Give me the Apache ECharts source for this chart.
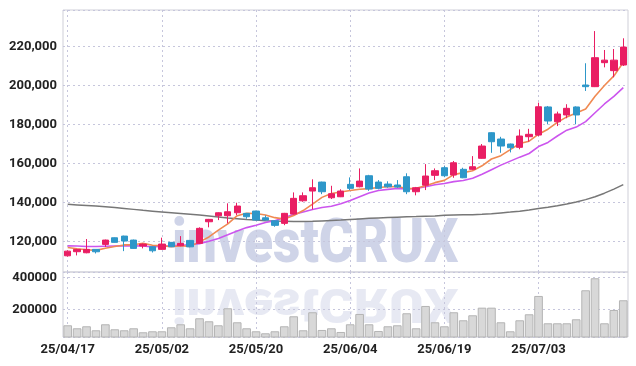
<!DOCTYPE html>
<html><head><meta charset="utf-8">
<script src="https://cdn.jsdelivr.net/npm/echarts@6/dist/echarts.min.js"></script>
<style>html,body{margin:0;padding:0;background:#fff}#c{width:636px;height:366px}</style>
</head><body><div id="c"></div>
<script>
const dates = ['25/04/17','25/04/18','25/04/21','25/04/22','25/04/23','25/04/24','25/04/25','25/04/28','25/04/29','25/04/30',
'25/05/02','25/05/07','25/05/08','25/05/09','25/05/12','25/05/13','25/05/14','25/05/15','25/05/16','25/05/19',
'25/05/20','25/05/21','25/05/22','25/05/23','25/05/26','25/05/27','25/05/28','25/05/29','25/05/30','25/06/02',
'25/06/04','25/06/05','25/06/09','25/06/10','25/06/11','25/06/12','25/06/13','25/06/16','25/06/17','25/06/18',
'25/06/19','25/06/20','25/06/23','25/06/24','25/06/25','25/06/26','25/06/27','25/06/30','25/07/01','25/07/02',
'25/07/03','25/07/04','25/07/07','25/07/08','25/07/09','25/07/10','25/07/11','25/07/14','25/07/15','25/07/16'];

const openP = [112700,114800,114260,116000,118560,121950,122820,120770,117700,117330,116000,119590,117850,120600,119080,130150,133230,133230,134770,134460,135640,132200,130660,129330,134100,140900,145900,150500,142460,142970,149330,148100,153740,150500,149490,149000,153230,145540,148900,153950,157850,154100,157030,157030,162670,175800,172560,170000,168300,173750,174600,189000,181400,184900,189000,200250,199400,211700,207600,210500];
const closeP = [115100,116000,116000,114770,120770,119590,120260,116500,118700,115280,118720,117330,119080,117300,126770,131380,134770,135280,138200,132720,131030,131030,128300,134460,142150,143500,147600,145540,144510,145900,147280,151000,146920,147280,148100,147950,145540,147600,153600,156310,153740,160400,152700,158360,168970,171180,168970,168100,174100,174970,189100,181800,185400,188300,184900,199400,214250,213000,213000,219700];
const lowP = [112300,112900,114000,113900,117300,119500,115100,116300,116500,114400,115800,117200,117600,117100,118800,127300,131000,129300,133600,131700,130800,130900,127600,128400,133900,140400,136500,144300,141800,142800,146400,147800,146000,146800,147600,147500,144300,143700,146400,151500,153000,152700,152500,156600,162500,165500,165500,165700,167300,171200,174000,180100,179200,183200,180100,197200,199200,209300,204200,210000];
const highP = [115500,116200,121300,116000,121000,122100,123000,121000,119000,117400,122000,119700,122800,120700,127300,131600,135000,139600,139900,134600,135800,133400,130800,134700,145200,145200,151900,150700,148600,146800,152900,157500,154200,151500,150900,151500,155000,148000,159700,157500,158700,161300,157850,163800,170000,176000,173700,170200,177500,177800,191200,189500,186600,190400,189300,211400,227900,218200,218700,224200];

const ma5 = [117000,116300,115800,115500,116530,117430,118280,118380,119160,118070,117890,117310,117820,117540,119840,122370,125860,129100,133280,134470,134400,133650,132260,131510,133390,135890,139200,142650,144660,145410,146170,146850,147120,147680,148120,148250,147160,147290,148560,150200,151360,154330,155350,156300,158830,162320,164040,167120,170260,171460,175050,177610,181070,183910,185900,187960,194450,199970,204910,211870];
const ma10 = [117800,117700,117500,117500,117600,117700,117800,117800,117700,117300,117660,117790,118100,118350,118950,120130,121580,123460,125410,127150,128390,129760,130680,132390,133930,135140,136430,137450,138080,139400,141030,143020,144890,146170,146760,147210,147000,147210,148120,149160,149800,150740,151320,152430,154520,156840,159180,161230,163280,165150,168690,170830,174100,177090,178680,181500,186030,190520,194410,198890];
const maLong = [139100,138800,138500,138200,137800,137400,137000,136500,136000,135600,135200,134800,134400,134000,133600,133100,132600,132100,131700,131300,131000,130700,130500,130400,130300,130300,130400,130600,130800,131000,131300,131600,131900,132100,132300,132500,132700,132800,133000,133100,133500,133600,133700,133800,134000,134300,134700,135100,135600,136200,136900,137600,138400,139300,140300,141500,143000,144800,146900,149200];

const volume = [101250,82500,95000,70000,107500,76250,70000,82500,57500,63750,63750,88750,107500,82500,145000,126250,101250,207500,120000,82500,63750,51250,63750,95000,157500,70000,182500,72000,82500,59400,107500,171900,107500,65600,95000,101250,176250,82500,221900,120000,95000,182500,132500,163750,211250,211250,120000,63750,132500,170000,284400,113750,113750,113750,138750,320000,395000,113750,196900,257500];

const priceTicks = [120000,140000,160000,180000,200000,220000];
const volTicks = [200000,400000];

const FONT = 'Roboto, "Liberation Sans", sans-serif';
const chart = echarts.init(document.getElementById('c'), null, {renderer:'canvas'});
const kdata = dates.map((d,i)=>[openP[i], closeP[i], lowP[i], highP[i]]);
const gridLine = {show:true, lineStyle:{color:'#c6c6dc', type:[2,3], width:1}};
const labelStyle = {color:'#222', fontFamily:FONT, fontWeight:'bold', fontSize:13};
const WM_FONT = '900 61px Roboto, "Liberation Sans", sans-serif';

chart.setOption({
  animation:false,
  backgroundColor:'#fff',
  graphic:[
    {type:'text', x:172, y:277, scaleX:0.875, z:-10, silent:true,
      style:{text:'investCRUX', font:WM_FONT, fill:'rgba(168,176,214,0.55)', verticalAlign:'bottom'}},
    {type:'text', x:172, y:277, scaleX:0.875, scaleY:-0.8, z:-10, silent:true,
      style:{text:'investCRUX', font:WM_FONT, fill:'rgba(188,193,222,0.36)', verticalAlign:'bottom'}}
  ],
  grid:[
    {left:63, right:8, top:10, height:262, show:true, borderColor:'#cfcfd8', borderWidth:1, outerBoundsMode:'none', containLabel:false},
    {left:63, right:8, top:272, height:65, show:true, borderColor:'#cfcfd8', borderWidth:1, outerBoundsMode:'none', containLabel:false}
  ],
  xAxis:[
    {type:'category', gridIndex:0, data:dates, boundaryGap:true,
      axisLine:{show:false}, axisTick:{show:false}, axisLabel:{show:false, interval:9},
      splitLine:Object.assign({interval:9, alignWithLabel:true}, gridLine)},
    {type:'category', gridIndex:1, data:dates, boundaryGap:true,
      axisLine:{show:false}, axisTick:{show:false},
      axisLabel:Object.assign({interval:9, margin:6}, labelStyle),
      splitLine:Object.assign({interval:9, alignWithLabel:true}, gridLine)}
  ],
  yAxis:[
    {type:'value', gridIndex:0, min:104400, max:238700, splitNumber:7,
      axisLine:{show:false}, axisTick:{show:false},
      axisLabel:Object.assign({margin:6, showMinLabel:false, showMaxLabel:false,
        formatter:v=>priceTicks.includes(v)?v.toLocaleString('en-US'):''}, labelStyle),
      splitLine:gridLine},
    {type:'value', gridIndex:1, min:28000, max:434000, splitNumber:2,
      axisLine:{show:false}, axisTick:{show:false},
      axisLabel:Object.assign({margin:6, showMinLabel:false, showMaxLabel:false,
        formatter:v=>volTicks.includes(v)?String(v):''}, labelStyle),
      splitLine:gridLine}
  ],
  series:[
    {type:'candlestick', xAxisIndex:0, yAxisIndex:0, data:kdata, barWidth:'72%', z:5,
      itemStyle:{color:'#e91e63', color0:'#2e97c9', borderColor:'#e91e63', borderColor0:'#2e97c9', borderWidth:1}},
    {type:'line', xAxisIndex:0, yAxisIndex:0, data:maLong, showSymbol:false, z:3,
      lineStyle:{color:'#777', width:1.5}},
    {type:'line', xAxisIndex:0, yAxisIndex:0, data:ma10, showSymbol:false, z:4,
      lineStyle:{color:'#cc55ee', width:1.6}},
    {type:'line', xAxisIndex:0, yAxisIndex:0, data:ma5, showSymbol:false, z:4,
      lineStyle:{color:'#f08a52', width:1.6}},
    {type:'bar', xAxisIndex:1, yAxisIndex:1, data:volume, barCategoryGap:'8%',
      itemStyle:{color:'#d8d8d8', borderColor:'#b4b4b4', borderWidth:1}}
  ]
});
</script>
</body></html>
